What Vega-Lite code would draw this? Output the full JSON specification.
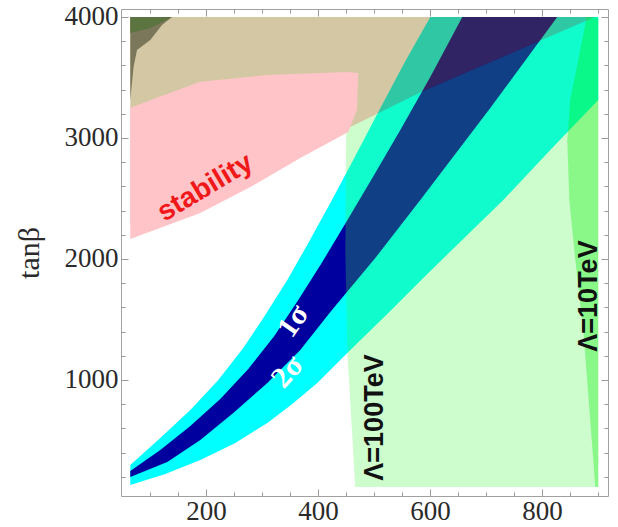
{
  "$schema": "https://vega.github.io/schema/vega-lite/v6.json",
  "width": 487,
  "height": 487,
  "autosize": {"type": "none"},
  "padding": {"left": 121, "top": 9, "right": 10, "bottom": 31},
  "background": "white",
  "config": {"view": {"stroke": "#A0A0A0", "strokeWidth": 1}},
  "datasets": {
    "regions": [
      {"r":"cyan","i":0,"x":64.8,"y":298},{"r":"cyan","i":1,"x":118.4,"y":521},{"r":"cyan","i":2,"x":172.0,"y":752},{"r":"cyan","i":3,"x":222.0,"y":1000},{"r":"cyan","i":4,"x":266.6,"y":1264},{"r":"cyan","i":5,"x":305.9,"y":1537},{"r":"cyan","i":6,"x":345.2,"y":1826},{"r":"cyan","i":7,"x":382.7,"y":2132},{"r":"cyan","i":8,"x":422.0,"y":2463},{"r":"cyan","i":9,"x":464.8,"y":2835},{"r":"cyan","i":10,"x":507.7,"y":3215},{"r":"cyan","i":11,"x":554.1,"y":3620},{"r":"cyan","i":12,"x":600.5,"y":4000},{"r":"cyan","i":13,"x":900.5,"y":4000},{"r":"cyan","i":14,"x":900.5,"y":3314},{"r":"cyan","i":15,"x":814.8,"y":2901},{"r":"cyan","i":16,"x":730.9,"y":2488},{"r":"cyan","i":17,"x":663.0,"y":2182},{"r":"cyan","i":18,"x":591.6,"y":1860},{"r":"cyan","i":19,"x":529.1,"y":1570},{"r":"cyan","i":20,"x":452.3,"y":1223},{"r":"cyan","i":21,"x":398.7,"y":975},{"r":"cyan","i":22,"x":354.1,"y":802},{"r":"cyan","i":23,"x":309.5,"y":645},{"r":"cyan","i":24,"x":252.3,"y":479},{"r":"cyan","i":25,"x":189.8,"y":339},{"r":"cyan","i":26,"x":127.3,"y":223},{"r":"cyan","i":27,"x":64.8,"y":132},
      {"r":"navy","i":0,"x":64.8,"y":248},{"r":"navy","i":1,"x":118.4,"y":421},{"r":"navy","i":2,"x":172.0,"y":620},{"r":"navy","i":3,"x":225.5,"y":843},{"r":"navy","i":4,"x":275.5,"y":1091},{"r":"navy","i":5,"x":322.0,"y":1364},{"r":"navy","i":6,"x":364.8,"y":1661},{"r":"navy","i":7,"x":407.7,"y":1975},{"r":"navy","i":8,"x":450.5,"y":2306},{"r":"navy","i":9,"x":497.0,"y":2669},{"r":"navy","i":10,"x":547.0,"y":3066},{"r":"navy","i":11,"x":600.5,"y":3504},{"r":"navy","i":12,"x":657.7,"y":4000},{"r":"navy","i":13,"x":827.3,"y":4000},{"r":"navy","i":14,"x":707.7,"y":3248},{"r":"navy","i":15,"x":582.7,"y":2488},{"r":"navy","i":16,"x":502.3,"y":2008},{"r":"navy","i":17,"x":422.0,"y":1562},{"r":"navy","i":18,"x":368.4,"y":1248},{"r":"navy","i":19,"x":309.5,"y":975},{"r":"navy","i":20,"x":248.7,"y":727},{"r":"navy","i":21,"x":189.8,"y":504},{"r":"navy","i":22,"x":130.9,"y":322},{"r":"navy","i":23,"x":64.8,"y":198},
      {"r":"tan","i":0,"x":64.8,"y":4000},{"r":"tan","i":1,"x":893,"y":4000},{"r":"tan","i":2,"x":886.2,"y":3983},{"r":"tan","i":3,"x":791.6,"y":3793},{"r":"tan","i":4,"x":584.5,"y":3380},{"r":"tan","i":5,"x":458.0,"y":3091},{"r":"tan","i":6,"x":64.8,"y":2281},
      {"r":"lightgreen","i":0,"x":450.5,"y":3066},{"r":"lightgreen","i":1,"x":448.8,"y":2074},{"r":"lightgreen","i":2,"x":452.3,"y":1248},{"r":"lightgreen","i":3,"x":459.5,"y":669},{"r":"lightgreen","i":4,"x":466.6,"y":116},{"r":"lightgreen","i":5,"x":900.5,"y":116},{"r":"lightgreen","i":6,"x":900.5,"y":3983},{"r":"lightgreen","i":7,"x":886.2,"y":3983},{"r":"lightgreen","i":8,"x":791.6,"y":3793},{"r":"lightgreen","i":9,"x":584.5,"y":3380},{"r":"lightgreen","i":10,"x":458.0,"y":3091},
      {"r":"pink","i":0,"x":64.8,"y":3250},{"r":"pink","i":1,"x":189.8,"y":3465},{"r":"pink","i":2,"x":309.0,"y":3520},{"r":"pink","i":3,"x":450.5,"y":3546},{"r":"pink","i":4,"x":472.0,"y":3537},{"r":"pink","i":5,"x":469.6,"y":3231},{"r":"pink","i":6,"x":454.1,"y":3050},{"r":"pink","i":7,"x":368.4,"y":2835},{"r":"pink","i":8,"x":279.3,"y":2595},{"r":"pink","i":9,"x":189.8,"y":2380},{"r":"pink","i":10,"x":64.8,"y":2165},
      {"r":"strip","i":0,"x":895.2,"y":116},{"r":"strip","i":1,"x":886.2,"y":669},{"r":"strip","i":2,"x":873.8,"y":1413},{"r":"strip","i":3,"x":859.5,"y":1992},{"r":"strip","i":4,"x":848.8,"y":2488},{"r":"strip","i":5,"x":845.2,"y":2983},{"r":"strip","i":6,"x":850.5,"y":3314},{"r":"strip","i":7,"x":864.8,"y":3645},{"r":"strip","i":8,"x":880.0,"y":4000},{"r":"strip","i":9,"x":900.5,"y":4000},{"r":"strip","i":10,"x":900.5,"y":116},
      {"r":"grey","i":0,"x":64.8,"y":4000},{"r":"grey","i":1,"x":139.3,"y":4000},{"r":"grey","i":2,"x":121.4,"y":3934},{"r":"grey","i":3,"x":100.5,"y":3810},{"r":"grey","i":4,"x":76.8,"y":3727},{"r":"grey","i":5,"x":70.7,"y":3589},{"r":"grey","i":6,"x":64.8,"y":3314},
      {"r":"darkgreen","i":0,"x":64.8,"y":4000},{"r":"darkgreen","i":1,"x":139.3,"y":4000},{"r":"darkgreen","i":2,"x":100.5,"y":3909},{"r":"darkgreen","i":3,"x":64.8,"y":3868}
    ],
    "labels": [
      {"label":"stability","x":199.1,"y":2587},
      {"label":"1σ","x":356.0,"y":1485},
      {"label":"2σ","x":345.5,"y":1066},
      {"label":"Λ=100TeV","x":502.3,"y":690},
      {"label":"Λ=10TeV","x":884.5,"y":1694}
    ]
  },
  "encoding": {
    "x": {"field": "x", "type": "quantitative", "scale": {"domain": [48.2, 917.9], "nice": false, "zero": false}, "axis": null},
    "y": {"field": "y", "type": "quantitative", "scale": {"domain": [41.3, 4066], "nice": false, "zero": false}, "axis": null}
  },
  "resolve": {"axis": {"x": "independent", "y": "independent"}},
  "layer": [
    {
      "data": {"name": "regions"},
      "transform": [{"filter": "datum.r === 'cyan'"}],
      "mark": {"type": "line", "interpolate": "linear-closed", "filled": true, "color": "#00FFFF", "strokeWidth": 0},
      "encoding": {
        "order": {"field": "i", "type": "quantitative"},
        "x": {"field": "x", "type": "quantitative", "scale": {"domain": [48.2, 917.9], "nice": false, "zero": false},
          "axis": {"orient": "bottom", "values": [100,150,200,250,300,350,400,450,500,550,600,650,700,750,800,850,900], "format": "d",
            "labelExpr": "datum.value % 200 === 0 ? datum.label : ''",
            "tickSize": {"condition": {"test": "datum.value % 200 === 0", "value": -7}, "value": -4},
            "tickColor": "#9A9A9A", "domain": false, "grid": false, "title": null,
            "labelFont": "Liberation Serif", "labelFontSize": 27, "labelColor": "#2A2A2A", "labelPadding": 9, "labelFlush": false, "labelOverlap": false}},
        "y": {"field": "y", "type": "quantitative", "scale": {"domain": [41.3, 4066], "nice": false, "zero": false},
          "axis": {"orient": "left", "values": [200,400,600,800,1000,1200,1400,1600,1800,2000,2200,2400,2600,2800,3000,3200,3400,3600,3800,4000], "format": "d",
            "labelExpr": "datum.value % 1000 === 0 ? datum.label : ''",
            "tickSize": {"condition": {"test": "datum.value % 1000 === 0", "value": -7}, "value": -4},
            "tickColor": "#9A9A9A", "domain": false, "grid": false, "title": "tanβ",
            "titleFont": "Liberation Serif", "titleFontSize": 30, "titleFontWeight": "normal", "titleColor": "#2A2A2A", "titlePadding": 20,
            "labelFont": "Liberation Serif", "labelFontSize": 27, "labelColor": "#2A2A2A", "labelPadding": 10, "labelFlush": false, "labelOverlap": false}}
      }
    },
    {
      "data": {"name": "regions"},
      "transform": [{"filter": "datum.r === 'navy'"}],
      "mark": {"type": "line", "interpolate": "linear-closed", "filled": true, "color": "#00009E", "strokeWidth": 0},
      "encoding": {
        "order": {"field": "i", "type": "quantitative"},
        "x": {"field": "x", "type": "quantitative", "scale": {"domain": [48.2, 917.9], "nice": false, "zero": false},
          "axis": {"orient": "top", "values": [100,150,200,250,300,350,400,450,500,550,600,650,700,750,800,850,900], "labels": false,
            "tickSize": {"condition": {"test": "datum.value % 200 === 0", "value": -7}, "value": -4},
            "tickColor": "#9A9A9A", "domain": false, "grid": false, "title": null}},
        "y": {"field": "y", "type": "quantitative", "scale": {"domain": [41.3, 4066], "nice": false, "zero": false},
          "axis": {"orient": "right", "values": [200,400,600,800,1000,1200,1400,1600,1800,2000,2200,2400,2600,2800,3000,3200,3400,3600,3800,4000], "labels": false,
            "tickSize": {"condition": {"test": "datum.value % 1000 === 0", "value": -7}, "value": -4},
            "tickColor": "#9A9A9A", "domain": false, "grid": false, "title": null}}
      }
    },
    {
      "data": {"name": "regions"},
      "transform": [{"filter": "datum.r === 'tan'"}],
      "mark": {"type": "line", "interpolate": "linear-closed", "filled": true, "color": "#866500", "opacity": 0.357, "strokeWidth": 0},
      "encoding": {"order": {"field": "i", "type": "quantitative"}}
    },
    {
      "data": {"name": "regions"},
      "transform": [{"filter": "datum.r === 'lightgreen'"}],
      "mark": {"type": "line", "interpolate": "linear-closed", "filled": true, "color": "#3EF23E", "opacity": 0.26, "strokeWidth": 0},
      "encoding": {"order": {"field": "i", "type": "quantitative"}}
    },
    {
      "data": {"name": "regions"},
      "transform": [{"filter": "datum.r === 'pink'"}],
      "mark": {"type": "line", "interpolate": "linear-closed", "filled": true, "color": "#FFC4C8", "strokeWidth": 0},
      "encoding": {"order": {"field": "i", "type": "quantitative"}}
    },
    {
      "data": {"name": "regions"},
      "transform": [{"filter": "datum.r === 'strip'"}],
      "mark": {"type": "line", "interpolate": "linear-closed", "filled": true, "color": "#00F000", "opacity": 0.33, "strokeWidth": 0},
      "encoding": {"order": {"field": "i", "type": "quantitative"}}
    },
    {
      "data": {"name": "regions"},
      "transform": [{"filter": "datum.r === 'grey'"}],
      "mark": {"type": "line", "interpolate": "linear-closed", "filled": true, "color": "#7B775B", "strokeWidth": 0},
      "encoding": {"order": {"field": "i", "type": "quantitative"}}
    },
    {
      "data": {"name": "regions"},
      "transform": [{"filter": "datum.r === 'darkgreen'"}],
      "mark": {"type": "line", "interpolate": "linear-closed", "filled": true, "color": "#5B7440", "strokeWidth": 0},
      "encoding": {"order": {"field": "i", "type": "quantitative"}}
    },
    {
      "data": {"name": "labels"},
      "transform": [{"filter": "datum.label === 'stability'"}],
      "mark": {"type": "text", "font": "Liberation Sans", "fontWeight": "bold", "fontSize": 28, "color": "#F01818", "angle": -31, "align": "center", "baseline": "middle"},
      "encoding": {"text": {"field": "label"}}
    },
    {
      "data": {"name": "labels"},
      "transform": [{"filter": "datum.label === '1σ'"}],
      "mark": {"type": "text", "font": "Liberation Serif", "fontWeight": "bold", "fontSize": 30, "color": "white", "angle": -55, "align": "center", "baseline": "middle"},
      "encoding": {"text": {"field": "label"}}
    },
    {
      "data": {"name": "labels"},
      "transform": [{"filter": "datum.label === '2σ'"}],
      "mark": {"type": "text", "font": "Liberation Serif", "fontWeight": "bold", "fontSize": 30, "color": "white", "angle": -48, "align": "center", "baseline": "middle"},
      "encoding": {"text": {"field": "label"}}
    },
    {
      "data": {"name": "labels"},
      "transform": [{"filter": "datum.label === 'Λ=100TeV' || datum.label === 'Λ=10TeV'"}],
      "mark": {"type": "text", "font": "Liberation Sans", "fontWeight": "bold", "fontSize": 27, "color": "#111111", "angle": -90, "align": "center", "baseline": "middle"},
      "encoding": {"text": {"field": "label"}}
    }
  ]
}
